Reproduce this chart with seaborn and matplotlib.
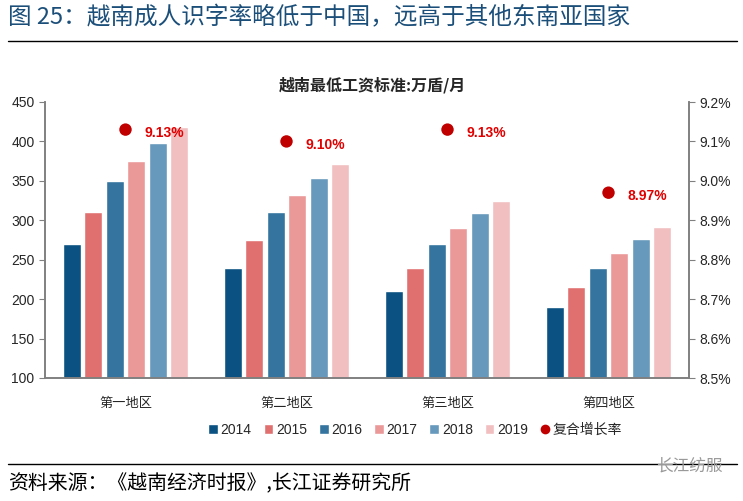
import pandas as pd
import numpy as np
import matplotlib.pyplot as plt
import seaborn as sns
from matplotlib.lines import Line2D

# 数据
regions = ['第一地区', '第二地区', '第三地区', '第四地区']
years = ['2014', '2015', '2016', '2017', '2018', '2019']
wage_2014 = [270, 240, 210, 190]
wage_2015 = [310, 275, 240, 215]
wage_2016 = [350, 310, 270, 240]
wage_2017 = [375, 332, 290, 258]
wage_2018 = [398, 353, 309, 276]
wage_2019 = [418, 371, 325, 292]
cagr = [9.13, 9.10, 9.13, 8.97]

colors = ['#0B5182', '#E07070', '#34749E', '#EB9898', '#6699BB', '#F2BFC0']

rows = []
for y, vals in zip(years, [wage_2014, wage_2015, wage_2016, wage_2017, wage_2018, wage_2019]):
    for r, v in zip(regions, vals):
        rows.append({'region': r, 'year': y, 'wage': v})
df = pd.DataFrame(rows)
df_rate = pd.DataFrame({'region': regions, 'rate': cagr})

sns.set_style('white')
plt.rcParams['font.family'] = ['Liberation Sans', 'Noto Sans CJK SC', 'DejaVu Sans']
cjk = ['Noto Sans CJK SC', 'DejaVu Sans']

fig = plt.figure(figsize=(7.43, 5.01), dpi=100)
ax = fig.add_axes([45 / 743, 1 - 378 / 501, 644 / 743, 276 / 501])

sns.barplot(data=df, x='region', y='wage', hue='year', palette=colors, saturation=1,
            width=0.8, gap=0.17, ax=ax, legend=True)
ax.set_ylim(100, 450)
ax.set_yticks(np.arange(100, 451, 50))
ax.set_xlim(-0.5, 3.5)
ax.set_xlabel('')
ax.set_ylabel('')
ax.tick_params(axis='y', labelsize=10, length=4, color='#808080', direction='out', left=True)
ax.tick_params(axis='x', length=0, pad=14)
for lab in ax.get_xticklabels():
    lab.set_fontfamily(cjk)
    lab.set_fontsize(9.5)
ax.spines['top'].set_visible(False)
for s in ['left', 'right', 'bottom']:
    ax.spines[s].set_color('#808080')
    ax.spines[s].set_linewidth(1.2)
handles, labels = ax.get_legend_handles_labels()
ax.get_legend().remove()

ax2 = ax.twinx()
sns.scatterplot(data=df_rate, x='region', y='rate', color='#C00000', s=80,
                edgecolor='none', ax=ax2, zorder=5)
ax2.set_ylim(8.5, 9.2)
ax2.set_yticks(np.arange(8.5, 9.21, 0.1))
ax2.set_yticklabels([f'{v:.1f}%' for v in np.arange(8.5, 9.21, 0.1)])
ax2.set_ylabel('')
ax2.tick_params(axis='y', labelsize=10, length=4, color='#808080', direction='out', right=True)
ax2.spines['top'].set_visible(False)
for s in ['left', 'right', 'bottom']:
    ax2.spines[s].set_color('#808080')
    ax2.spines[s].set_linewidth(1.2)
for i, v in enumerate(cagr):
    ax2.text(i + 0.12, v - 0.008, f'{v:.2f}%', color='#E00000', fontsize=10,
             fontweight='bold', va='center', ha='left')

handles.append(Line2D([], [], marker='o', color='none', markerfacecolor='#C00000',
                      markeredgecolor='none', markersize=7))
labels.append('复合增长率')
leg = fig.legend(handles, labels, loc='center', bbox_to_anchor=(415 / 743, 1 - 430 / 501),
                 ncol=7, frameon=False, handlelength=0.7, handleheight=0.7,
                 handletextpad=0.2, columnspacing=0.85,
                 prop={'family': ['Liberation Sans', 'Noto Sans CJK SC'], 'size': 10})

fig.text(372 / 743, 1 - 85 / 501, '越南最低工资标准:万盾/月', ha='center', va='center',
         fontsize=11.5, fontweight='bold', family=cjk)
fig.text(8 / 743, 1 - 18 / 501, '图 25：越南成人识字率略低于中国，远高于其他东南亚国家',
         ha='left', va='center', fontsize=17, color='#1B4F7A', family=cjk)
fig.add_artist(Line2D([8 / 743, 737 / 743], [1 - 41 / 501, 1 - 41 / 501], color='black', lw=1))
fig.add_artist(Line2D([8 / 743, 737 / 743], [1 - 464 / 501, 1 - 464 / 501], color='black', lw=1))
fig.text(8 / 743, 1 - 484 / 501, '资料来源：《越南经济时报》,长江证券研究所', ha='left',
         va='center', fontsize=14.3, color='black', family=cjk)
fig.text(723 / 743, 1 - 466 / 501, '长江纺服', ha='right', va='center', fontsize=12,
         color='#999999', family=cjk)

plt.savefig('out.png', dpi=100)
